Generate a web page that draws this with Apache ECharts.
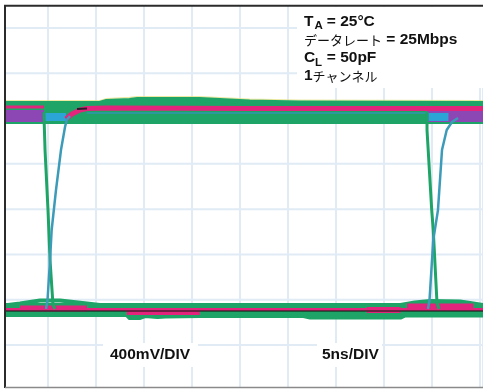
<!DOCTYPE html>
<html><head><meta charset="utf-8">
<script src="https://cdn.jsdelivr.net/npm/echarts@6/dist/echarts.min.js"></script>
<style>html,body{margin:0;padding:0;background:#fff}#c{width:483px;height:389px}</style>
</head><body><div id="c"></div>
<script>
// Eye diagram traces: x in ns (5 ns/DIV), y in mV (400 mV/DIV)
const xDivNs = 5;
const yGridMv = [-400,0,400,800,1200,1600,2000,2400];   // horizontal graticule lines (400 mV/DIV)
const yRangeMv = [-788,2647];                             // visible screen extent
const xRangeNs = [0,50.3];
// High level band
const hiGreenBase   = [[0,1649],[50.3,1649]];
const hiGreenTop    = [[0,1733],[10.4,1733],[11.1,1751],[13.5,1760],[14.3,1768],[20.8,1768],[26.0,1746],[31.2,1737],[50.3,1733]];
const hiFringe      = [[0,1758],[10.4,1758],[11.1,1776],[13.5,1785],[14.3,1793],[20.8,1793],[26.0,1771],[31.2,1762],[50.3,1758]];
const hiPurpleL     = [[0,1623],[4.58,1623]];
const hiPurpleR     = [[44.5,1623],[50.3,1623]];
const hiCyanL       = [[4.6,1614],[6.87,1614]];
const hiCyanR       = [[44.6,1614],[46.7,1614]];
const hiMagentaL    = [[0,1702],[4.58,1702]];
const hiMagentaMid  = [[6.87,1596],[7.5,1640],[8.33,1676],[9.06,1689],[11.1,1693],[26.0,1689],[44.5,1689],[50.3,1689]];
const hiBlack       = [[8.02,1685],[9.06,1689]];
const hiBlueThin    = [[9.06,1649],[44.5,1649]];
// Transitions
const fall1 = [[4.58,1658],[4.61,1543],[4.69,1322],[5.0,792],[5.21,351],[5.52,-47],[5.73,-82]];
const rise1 = [[4.79,-82],[4.95,-2],[5.21,351],[5.38,616],[5.83,969],[6.35,1322],[6.77,1526],[6.95,1587],[7.29,1623]];
const fall2 = [[44.47,1658],[44.47,1499],[44.96,792],[45.12,616],[45.51,-29],[45.72,-82]];
const rise2 = [[44.57,-82],[44.73,-2],[45.12,527],[45.61,792],[46.03,1322],[46.52,1499],[46.86,1543],[47.07,1570],[47.7,1605]];
// Low level band
const loGreenBase   = [[0,-91],[50.3,-91]];
const loGreenTop    = [[0,-55],[2.08,-33],[4.17,-6],[6.25,-6],[9.06,-33],[10.4,-47],[41.7,-47],[43.2,-24],[44.8,-11],[47.9,-15],[49.3,-33],[50.3,-47]];
const loGreenBottom = [[0,-135],[13.2,-135],[13.5,-161],[14.6,-161],[15.1,-144],[16.4,-153],[17.2,-148],[20.8,-144],[31.6,-144],[32.3,-157],[41.7,-157],[42.2,-139],[50.3,-139]];
const loMagentaThin = [[0,-86],[50.3,-86]];
const loMagentaA    = [[2.08,-77],[9.06,-77]];
const loMagentaB    = [[13.2,-108],[20.8,-108]];
const loMagentaC    = [[38.2,-91],[41.7,-91]];
const loMagentaD    = [[42.4,-60],[49.3,-60]];
const loBlack       = [[0,-100],[50.3,-100]];

const GREEN='#1ea466', MAG='#e3247c', PUR='#8d47b5', CYAN='#2aa5d5', TEAL='#3c9bb8';
const GRIDC='#e0ebf5';
function ln(data,color,width,opacity,z){
  return {type:'line',data:data,showSymbol:false,silent:true,z:z||2,
    lineStyle:{color:color,width:width,opacity:opacity==null?1:opacity,cap:'butt',join:'round'}};
}
const gridSeries = yGridMv.map(v => ln([[xRangeNs[0],v],[xRangeNs[1],v]],GRIDC,2,1,1));
const series = gridSeries.concat([
  ln(hiFringe,'#e4e07a',1.5,0.7,2),
  ln(hiGreenBase,GREEN,22,1,3),
  ln(hiGreenTop,GREEN,5,1,3),
  ln(hiPurpleL,PUR,12,1,4),
  ln(hiPurpleR,PUR,12,1,4),
  ln(hiCyanL,CYAN,8,1,4),
  ln(hiCyanR,CYAN,8,1,4),
  ln(hiMagentaL,MAG,3,1,5),
  ln(hiMagentaMid,MAG,5,1,5),
  ln(hiBlueThin,'#3a8fd0',1.5,0.7,5),
  ln(hiBlack,'#2a1a2a',2,1,6),
  ln(loGreenBase,GREEN,14,1,3),
  ln(loGreenTop,GREEN,4,1,3),
  ln(loGreenBottom,GREEN,4,1,3),
  ln(loMagentaThin,MAG,3,1,4),
  ln(loMagentaA,MAG,6,1,4),
  ln(loMagentaB,MAG,6,1,4),
  ln(loMagentaC,MAG,6,1,4),
  ln(loMagentaD,MAG,6,1,4),
  ln(loBlack,'#1a1a1a',1.5,0.75,5),
  ln(fall1,GREEN,3,1,7),
  ln(rise1,TEAL,2.5,1,7),
  ln(fall2,GREEN,3,1,7),
  ln(rise2,TEAL,2.5,1,7)
]);
const LAT='"Liberation Sans", Arial, sans-serif', JP='"Noto Sans CJK JP", sans-serif';
const B={fontFamily:LAT,fontWeight:'bold',fontSize:15.5,fill:'#111'};
const J={fontFamily:JP,fontWeight:'normal',fontSize:13,fill:'#111'};
function txt(x,y,text,style){return {type:'text',x:x,y:y,z:101,silent:true,style:Object.assign({text:text,verticalAlign:'middle',align:'left'},style)};}
const graphic = [
  {type:'rect',shape:{x:0,y:0,width:5,height:389},style:{fill:'#fff'},z:100},
  {type:'rect',shape:{x:0,y:0,width:483,height:5},style:{fill:'#fff'},z:100},
  {type:'rect',shape:{x:0,y:388,width:483,height:2},style:{fill:'#fff'},z:100},
  {type:'line',shape:{x1:5,y1:5,x2:5,y2:388},style:{stroke:'#2b2b2b',lineWidth:2},z:100},
  {type:'line',shape:{x1:4,y1:5.8,x2:483,y2:5.8},style:{stroke:'#2b2b2b',lineWidth:2},z:100},
  {type:'line',shape:{x1:5,y1:387.5,x2:483,y2:387.5},style:{stroke:'#8a8a8a',lineWidth:1.5},z:100},
  {type:'rect',shape:{x:297,y:7,width:186,height:81},style:{fill:'#fff'},z:100},
  {type:'rect',shape:{x:103,y:343,width:95,height:24},style:{fill:'#fff'},z:100},
  {type:'rect',shape:{x:317,y:343,width:65,height:24},style:{fill:'#fff'},z:100},
  txt(304,21.5,'T',B), txt(314.5,26,'A',Object.assign({},B,{fontSize:11.5})), txt(322.5,21.5,' = 25°C',B),
  {type:'text',x:304,y:40,z:101,silent:true,style:{text:'{j|データレート}{b| = 25Mbps}',verticalAlign:'middle',rich:{j:J,b:B}}},
  txt(304,58,'C',B), txt(315,62.5,'L',Object.assign({},B,{fontSize:11.5})), txt(322.5,58,' = 50pF',B),
  {type:'text',x:304,y:76,z:101,silent:true,style:{text:'{b|1}{j|チャンネル}',verticalAlign:'middle',rich:{j:J,b:B}}},
  txt(110,355,'400mV/DIV',B),
  txt(322,355,'5ns/DIV',B)
];
const chart = echarts.init(document.getElementById('c'),null,{renderer:'canvas'});
chart.setOption({
  animation:false,
  backgroundColor:'#fff',
  grid:{left:0,top:0,width:483,height:389,containLabel:false},
  xAxis:{type:'value',min:xRangeNs[0],max:xRangeNs[1],interval:xDivNs,axisLine:{show:false},axisTick:{show:false},axisLabel:{show:false},
    splitLine:{show:true,lineStyle:{color:GRIDC,width:2}}},
  yAxis:{type:'value',min:yRangeMv[0],max:yRangeMv[1],axisLine:{show:false},axisTick:{show:false},axisLabel:{show:false},
    splitLine:{show:false}},
  series:series,
  graphic:graphic
});
</script></body></html>
